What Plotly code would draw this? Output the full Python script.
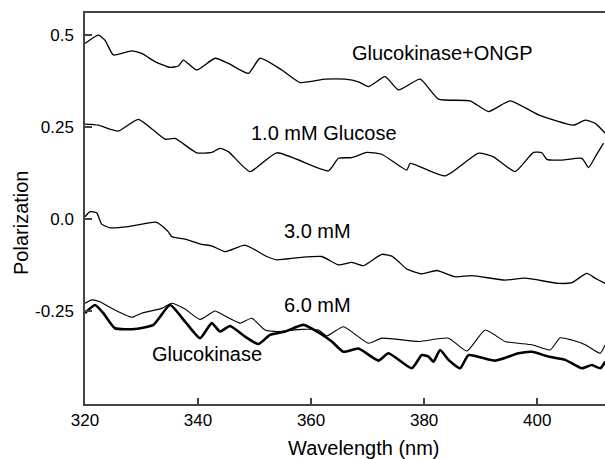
import plotly.graph_objects as go

# Glucokinase+ONGP
ongp_x = [320, 322.36, 323.54, 325.01, 328.26, 330.03, 332.39, 335.04, 336.52, 337.40, 339.76, 343.01, 345.37,
          348.91, 350.97, 354.81, 358.05, 362.48, 366.02, 368.38, 370.15, 373.10, 375.46, 379.29, 382.54,
          388.14, 391.39, 395.22, 400.24, 406.43, 408.50, 410.27, 412.04]
ongp_y = [0.477, 0.500, 0.486, 0.446, 0.457, 0.450, 0.428, 0.412, 0.416, 0.432, 0.405, 0.437, 0.423,
          0.396, 0.437, 0.405, 0.371, 0.380, 0.380, 0.373, 0.360, 0.387, 0.351, 0.380, 0.326,
          0.321, 0.292, 0.321, 0.283, 0.255, 0.269, 0.260, 0.233]

# 1.0 mM Glucose
g1_x = [320, 322.36, 325.90, 329.44, 334.16, 335.93, 339.76, 342.42, 343.89, 345.37, 349.20, 353.92, 363.07,
        364.84, 367.20, 369.85, 372.51, 376.93, 377.52, 383.72, 389.62, 392.27, 396.11, 399.35, 400.83,
        401.71, 404.37, 407.91, 409.09, 410.27, 411.74]
g1_y = [0.258, 0.255, 0.239, 0.271, 0.217, 0.219, 0.180, 0.181, 0.192, 0.183, 0.129, 0.180, 0.131,
        0.165, 0.167, 0.181, 0.176, 0.133, 0.151, 0.117, 0.179, 0.169, 0.129, 0.181, 0.180,
        0.162, 0.160, 0.165, 0.140, 0.169, 0.206]

# 3.0 mM
g3_x = [320, 320.88, 322.06, 322.95, 324.42, 327.67, 332.68, 334.75, 335.34, 337.70, 340.65, 342.42, 344.78,
        348.32, 352.15, 353.92, 357.76, 361.89, 364.84, 367.20, 369.26, 372.51, 374.28, 375.75, 376.93,
        379.59, 382.24, 385.49, 388.44, 394.34, 397.88, 403.78, 406.14, 408.79, 410.27, 412.04]
g3_y = [0.006, 0.020, 0.017, -0.014, -0.024, -0.021, -0.009, -0.035, -0.048, -0.055, -0.069, -0.073, -0.089,
        -0.071, -0.102, -0.111, -0.105, -0.102, -0.125, -0.118, -0.127, -0.096, -0.101, -0.120, -0.136,
        -0.149, -0.140, -0.157, -0.154, -0.166, -0.161, -0.175, -0.173, -0.148, -0.161, -0.175]

# 6.0 mM
g6_x = [320, 321.18, 322.65, 324.13, 325.90, 328.26, 330.03, 333.57, 335.34, 337.70, 340.35, 343.01, 344.78,
        347.43, 349.50, 351.86, 354.22, 358.35, 361.30, 362.77, 365.72, 370.15, 372.51, 379.00, 384.31,
        387.55, 390.80, 394.34, 396.70, 399.06, 402.30, 404.07, 406.14, 408.50, 411.15, 412.04]
g6_y = [-0.229, -0.220, -0.225, -0.238, -0.252, -0.267, -0.256, -0.243, -0.229, -0.245, -0.273, -0.250, -0.264,
        -0.283, -0.270, -0.302, -0.306, -0.300, -0.302, -0.318, -0.293, -0.338, -0.324, -0.333, -0.324,
        -0.359, -0.302, -0.333, -0.338, -0.342, -0.356, -0.323, -0.329, -0.342, -0.365, -0.342]

# Glucokinase
gk_x = [320, 321.77, 323.24, 325.31, 328.85, 332.09, 335.04, 337.70, 340.35, 342.42, 343.89, 345.66, 348.32,
        350.68, 352.74, 355.40, 358.64, 361.59, 363.66, 365.72, 368.38, 371.92, 373.69, 377.82, 379.59,
        380.77, 381.65, 382.83, 384.31, 386.37, 387.85, 392.57, 396.70, 399.06, 402.01, 404.96, 407.91,
        409.68, 411.15, 412.04]
gk_y = [-0.256, -0.234, -0.256, -0.297, -0.299, -0.288, -0.234, -0.279, -0.324, -0.283, -0.306, -0.291, -0.320,
        -0.340, -0.315, -0.306, -0.288, -0.311, -0.333, -0.361, -0.352, -0.385, -0.365, -0.406, -0.370,
        -0.374, -0.388, -0.356, -0.383, -0.406, -0.370, -0.385, -0.365, -0.361, -0.374, -0.383, -0.406,
        -0.397, -0.406, -0.388]

y_tickvals = [0.5, 0.25, 0.0, -0.25]
y_ticktext = ["0.5", "0.25", "0.0", "-0.25"]
x_tickvals = [320, 340, 360, 380, 400]

labels = ["Glucokinase+ONGP", "1.0 mM Glucose", "3.0 mM", "6.0 mM", "Glucokinase"]
label_x = [383.2, 362.3, 361.1, 361.2, 341.6]
label_y = [0.451, 0.234, -0.033, -0.234, -0.367]

FONT = "Liberation Sans, Arial, sans-serif"

fig = go.Figure()
series = [(ongp_x, ongp_y, 1.3), (g1_x, g1_y, 1.3), (g3_x, g3_y, 1.3), (g6_x, g6_y, 1.1), (gk_x, gk_y, 2.6)]
for xs, ys, w in series:
    fig.add_trace(go.Scatter(x=xs, y=ys, mode="lines",
                             line=dict(color="black", width=w, shape="spline", smoothing=0.5),
                             showlegend=False, hoverinfo="skip"))

for t, ax, ay in zip(labels, label_x, label_y):
    fig.add_annotation(x=ax, y=ay, text=t, showarrow=False, xref="x", yref="y",
                       font=dict(family=FONT, size=20, color="black"))

fig.add_annotation(text="Polarization", xref="paper", yref="paper", x=-0.123, y=0.463,
                   textangle=-90, showarrow=False, font=dict(family=FONT, size=20, color="black"),
                   xanchor="center", yanchor="middle")
fig.add_annotation(text="Wavelength (nm)", xref="paper", yref="paper", x=0.537, y=-0.113,
                   showarrow=False, font=dict(family=FONT, size=20, color="black"),
                   xanchor="center", yanchor="middle")

fig.update_layout(
    width=605, height=459,
    margin=dict(l=85, r=0, t=13, b=55),
    paper_bgcolor="white", plot_bgcolor="white",
    font=dict(family=FONT, size=16, color="black"),
    xaxis=dict(range=[320, 412], tickvals=x_tickvals, ticks="inside", ticklen=6, tickwidth=1.5,
               tickcolor="#444", showline=True, linecolor="#444", linewidth=1.5, mirror=True,
               showgrid=False, zeroline=False, tickfont=dict(size=17)),
    yaxis=dict(range=[-0.503, 0.56], tickvals=y_tickvals, ticktext=y_ticktext, ticks="inside",
               ticklen=7, tickwidth=1.5, tickcolor="#444", showline=True, linecolor="#444",
               linewidth=1.5, showgrid=False, zeroline=False, tickfont=dict(size=17),
               ticklabelstandoff=6),
)

fig.write_html("out.html")
